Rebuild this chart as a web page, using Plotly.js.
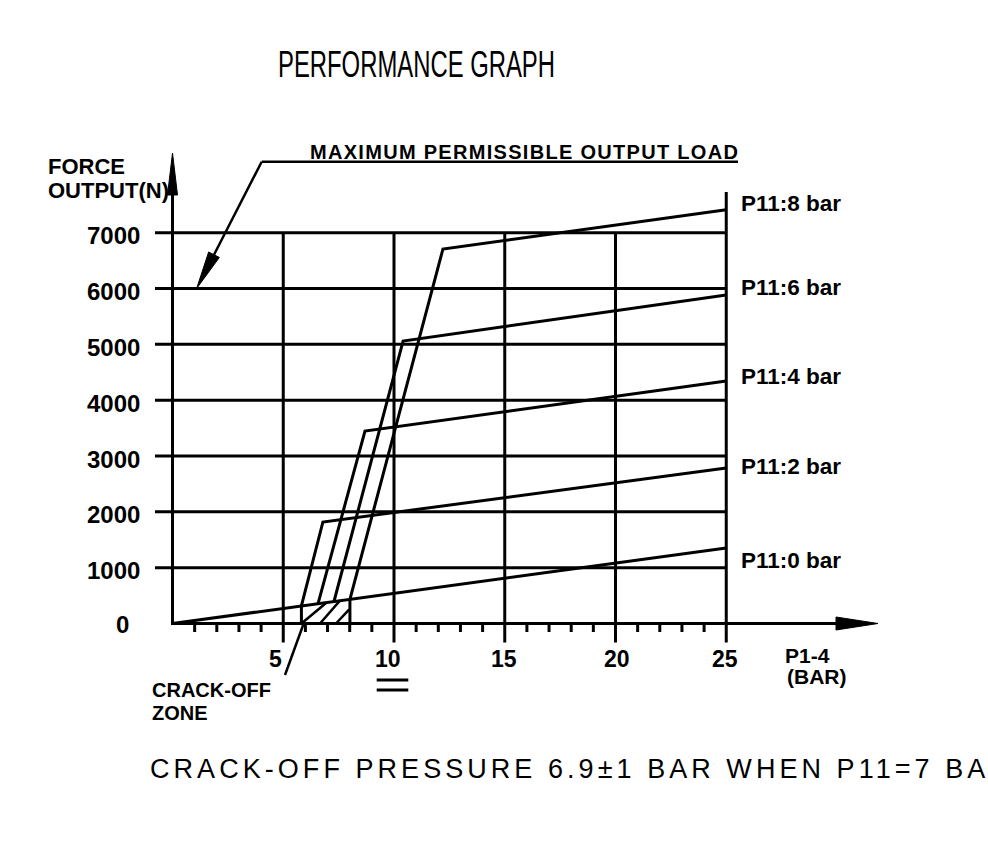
<!DOCTYPE html>
<html><head><meta charset="utf-8">
<script src="https://cdn.plot.ly/plotly-3.0.1.min.js"></script>
<style>html,body{margin:0;padding:0;background:#fff}#chart{width:988px;height:858px}</style>
</head><body><div id="chart"></div>
<script>
// ---------------- data ----------------
const seriesNames = ['P11:0 bar', 'P11:2 bar', 'P11:4 bar', 'P11:6 bar', 'P11:8 bar'];
const p0X = [0, 25];            const p0Y = [0, 1352];
const p2X = [5.82, 6.79, 25];   const p2Y = [315, 1818, 2785];
const p4X = [6.57, 8.69, 25];   const p4Y = [355, 3448, 4343];
const p6X = [7.29, 10.41, 25];  const p6Y = [394, 5060, 5884];
const p8X = [8.01, 12.21, 25];  const p8Y = [433, 6708, 7410];
const yTickVals = [0, 1000, 2000, 3000, 4000, 5000, 6000, 7000];
const yTickText = ['0', '1000', '2000', '3000', '4000', '5000', '6000', '7000'];
const xTickVals = [5, 10, 15, 20, 25];
const xTickText = ['5', '10', '15', '20', '25'];
const xMinorTicks = [1,2,3,4,6,7,8,9,11,12,13,14,16,17,18,19,21,22,23,24];
const crackZoneX = [5.82, 8.01];
const crackZoneTop = [315, 433];
const hatchX0 = [5.82, 6.66, 7.38]; const hatchY0 = [0, 0, 0];
const hatchX1 = [6.96, 7.56, 7.98]; const hatchY1 = [376, 409, 254];
const maxLoadTarget = [1.09, 6000];

// ---------------- geometry (pixel <-> data) ----------------
const W = 988, H = 858;
const X0 = 172.5, SX = 22.15;        // px of x=0, px per bar
const Y0 = 623.5, SY = 55.83 / 1000; // px of y=0, px per N
const px2x = p => (p - X0) / SX;
const py2y = p => (Y0 - p) / SY;
const x2px = x => X0 + x * SX;
const y2py = y => Y0 - y * SY;

const BLK = '#000';
const LW = 3;
const shapes = [];
function seg(x0, y0, x1, y1, w) {
  shapes.push({type: 'line', xref: 'x', yref: 'y', x0, y0, x1, y1, line: {color: BLK, width: w || LW}});
}
function arrowPath(tipPx, tipPy, fromPx, fromPy, len, hw) {
  const dx = tipPx - fromPx, dy = tipPy - fromPy, L = Math.hypot(dx, dy);
  const ux = dx / L, uy = dy / L;
  const bx = tipPx - ux * len, by = tipPy - uy * len;
  const nx = -uy * hw, ny = ux * hw;
  const pts = [[tipPx, tipPy], [bx + nx, by + ny], [bx - nx, by - ny]];
  shapes.push({type: 'path', xref: 'x', yref: 'y',
    path: 'M ' + pts.map(p => px2x(p[0]) + ',' + py2y(p[1])).join(' L ') + ' Z',
    fillcolor: BLK, line: {color: BLK, width: 1}});
  return [bx, by];
}

// horizontal grid
yTickVals.slice(1).forEach(v => seg(px2x(155), v, 25, v));
// vertical grid
xTickVals.forEach(v => seg(v, py2y(642.5), v, v === 25 ? py2y(192) : 7000));
// axes
seg(0, py2y(625), 0, py2y(180));
seg(0, 0, px2x(845), 0);
arrowPath(X0, 153, X0, Y0, 42, 5);
arrowPath(878, Y0, X0, Y0, 42, 6.5);
// minor ticks
xMinorTicks.forEach(v => seg(v, 0, v, py2y(632)));
// crack-off zone
crackZoneX.forEach((v, i) => seg(v, 0, v, crackZoneTop[i]));
hatchX0.forEach((v, i) => seg(v, hatchY0[i], hatchX1[i], hatchY1[i], 2.5));
seg(px2x(303.5), py2y(624), px2x(285), py2y(675), 2.5);
// "=" mark under 10
seg(px2x(376.7), py2y(680), px2x(408.3), py2y(680));
seg(px2x(376.7), py2y(690), px2x(408.3), py2y(690));
// maximum load leader
const tipPx = x2px(maxLoadTarget[0]), tipPy = y2py(maxLoadTarget[1]);
seg(px2x(738), py2y(161.7), px2x(261.7), py2y(161.7), 2.5);
const base = arrowPath(tipPx, tipPy, 261.7, 161.7, 38, 6);
seg(px2x(261.7), py2y(161.7), px2x(base[0]), py2y(base[1]), 2.5);

// ---------------- traces ----------------
const curveX = [p0X, p2X, p4X, p6X, p8X];
const curveY = [p0Y, p2Y, p4Y, p6Y, p8Y];
const traces = curveX.map((xs, i) => ({
  type: 'scatter', mode: 'lines', x: xs, y: curveY[i], name: seriesNames[i],
  line: {color: BLK, width: LW}, hoverinfo: 'skip', showlegend: false
}));

// ---------------- text ----------------
const BOLD = 'Liberation Sans, Arial, sans-serif';
const anns = [];
function label(text, px, py, size, xanchor, extra) {
  anns.push(Object.assign({xref: 'paper', yref: 'paper', x: px / W, y: 1 - py / H, text,
    showarrow: false, xanchor: xanchor || 'left', yanchor: 'middle', borderpad: 0,
    font: {family: BOLD, size: size, color: BLK, weight: 'bold'}}, extra || {}));
}
label('FORCE', 47, 166, 22);
label('OUTPUT(N)', 47, 191, 22);
yTickVals.forEach((v, i) => {
  if (v === 0) label(yTickText[i], 122.5, 624, 24, 'center');
  else label(yTickText[i], 141, y2py(v) + 3, 24, 'right');
});
const xLabShift = [-8, -6, -1, 1, -1];
xTickVals.forEach((v, i) => label(xTickText[i], x2px(v) + xLabShift[i], 659, 23, 'center'));
label('P1-4', 784, 655, 21);
label('(BAR)', 786, 676.5, 21);
label('CRACK-OFF', 151, 690, 20);
label('ZONE', 151, 713, 20);
const rightLabelPy = [560, 466, 376, 288, 203];
seriesNames.forEach((s, i) => label(s, 740, rightLabelPy[i], 22.5));
label('<span style="letter-spacing:1.3px">MAXIMUM PERMISSIBLE OUTPUT LOAD</span>', 309, 151.5, 20);
label('<span style="letter-spacing:4.05px">CRACK-OFF PRESSURE 6.9±1 BAR WHEN P11=7 BA</span>', 149, 769, 27, 'left',
  {font: {family: 'Liberation Sans, Arial, sans-serif', size: 27, color: BLK}});

const layout = {
  width: W, height: H,
  margin: {l: 0, r: 0, t: 0, b: 0, pad: 0},
  paper_bgcolor: '#fff', plot_bgcolor: '#fff',
  showlegend: false,
  title: {text: 'PERFORMANCE GRAPH', xref: 'container', yref: 'container',
    x: 416.5 / W, xanchor: 'center', y: 1 - 64.5 / H, yanchor: 'middle',
    font: {family: 'Liberation Sans Narrow, Liberation Sans, sans-serif', size: 37, color: BLK}},
  xaxis: {range: [px2x(0), px2x(W)], visible: false, fixedrange: true, showgrid: false, zeroline: false},
  yaxis: {range: [py2y(H), py2y(0)], visible: false, fixedrange: true, showgrid: false, zeroline: false},
  shapes: shapes,
  annotations: anns
};

Plotly.newPlot('chart', traces, layout, {staticPlot: true, displayModeBar: false}).then(gd => {
  const t = gd.querySelector('.gtitle');
  if (t) { t.setAttribute('textLength', '277'); t.setAttribute('lengthAdjust', 'spacingAndGlyphs'); }
});
</script>
</body></html>
